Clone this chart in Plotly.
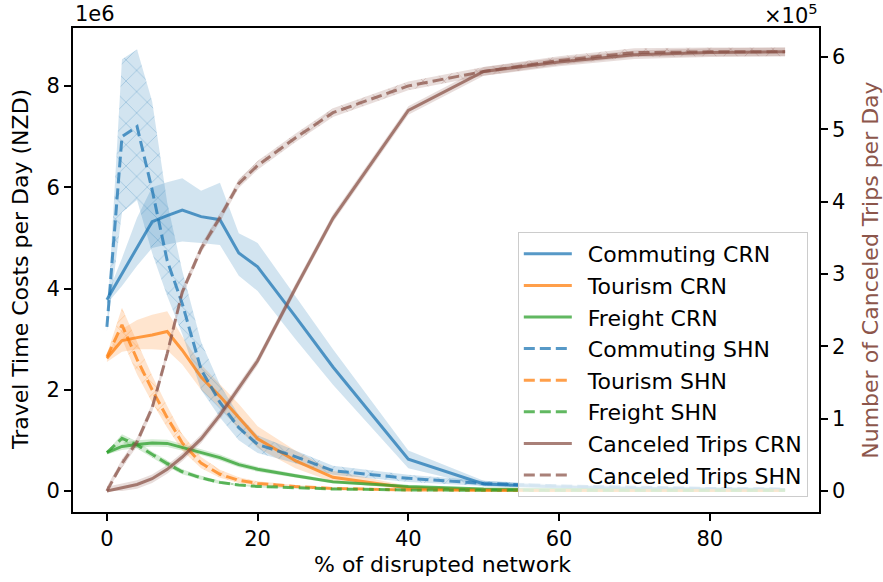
import plotly.graph_objects as go

# ---------------- data ----------------
x_pct = [0, 2, 4, 6, 8, 10, 12.5, 15, 17.5, 20, 25, 30, 40, 50, 60, 70, 80, 90]

# travel time costs (units of 1e6 NZD)
commuting_crn = [3.78, 4.3, 4.81, 5.32, 5.44, 5.55, 5.42, 5.36, 4.70, 4.43, 3.45, 2.45, 0.63, 0.14, 0.08, 0.05, 0.04, 0.03]
commuting_crn_hi = [3.85, 4.6, 5.4, 6.0, 6.1, 6.18, 5.93, 6.09, 5.09, 4.9, 3.85, 2.8, 0.8, 0.2, 0.11, 0.07, 0.05, 0.04]
commuting_crn_lo = [3.7, 4.05, 4.45, 4.8, 4.87, 4.93, 4.9, 4.86, 4.25, 3.95, 3.0, 2.1, 0.45, 0.09, 0.05, 0.03, 0.03, 0.02]

tourism_crn = [2.62, 2.97, 3.03, 3.08, 3.15, 2.78, 2.25, 1.87, 1.45, 1.03, 0.6, 0.27, 0.06, 0.02, 0.01, 0.01, 0.01, 0.01]
tourism_crn_hi = [2.7, 3.2, 3.38, 3.48, 3.55, 3.05, 2.5, 2.1, 1.72, 1.28, 0.8, 0.4, 0.1, 0.04, 0.02, 0.02, 0.02, 0.02]
tourism_crn_lo = [2.55, 2.75, 2.8, 2.8, 2.78, 2.5, 2.0, 1.65, 1.22, 0.85, 0.45, 0.18, 0.03, 0.01, 0.005, 0.005, 0.005, 0.005]

freight_crn = [0.76, 0.88, 0.92, 0.95, 0.94, 0.86, 0.77, 0.66, 0.52, 0.43, 0.3, 0.18, 0.09, 0.04, 0.03, 0.02, 0.02, 0.02]
freight_crn_hi = [0.8, 0.95, 1.0, 1.02, 1.01, 0.93, 0.83, 0.72, 0.58, 0.48, 0.34, 0.21, 0.11, 0.05, 0.04, 0.03, 0.03, 0.03]
freight_crn_lo = [0.72, 0.81, 0.85, 0.88, 0.87, 0.8, 0.71, 0.6, 0.47, 0.38, 0.26, 0.15, 0.07, 0.03, 0.02, 0.015, 0.015, 0.015]

commuting_shn = [3.24, 7.0, 7.2, 5.95, 4.55, 3.7, 2.4, 1.75, 1.25, 0.92, 0.68, 0.4, 0.25, 0.15, 0.1, 0.07, 0.05, 0.04]
commuting_shn_hi = [3.3, 8.53, 8.72, 7.7, 5.7, 4.35, 2.95, 2.1, 1.5, 1.1, 0.8, 0.5, 0.32, 0.2, 0.13, 0.09, 0.06, 0.05]
commuting_shn_lo = [3.15, 5.5, 5.75, 4.7, 3.85, 3.1, 2.0, 1.45, 1.0, 0.75, 0.55, 0.32, 0.18, 0.1, 0.07, 0.05, 0.04, 0.03]

tourism_shn = [2.65, 3.28, 2.6, 2.0, 1.45, 0.95, 0.55, 0.33, 0.21, 0.15, 0.09, 0.05, 0.02, 0.01, 0.01, 0.01, 0.01, 0.01]
tourism_shn_hi = [2.7, 3.62, 2.95, 2.28, 1.68, 1.12, 0.67, 0.42, 0.27, 0.19, 0.12, 0.07, 0.03, 0.02, 0.015, 0.015, 0.015, 0.015]
tourism_shn_lo = [2.6, 3.0, 2.3, 1.75, 1.25, 0.8, 0.45, 0.26, 0.16, 0.11, 0.07, 0.035, 0.01, 0.005, 0.005, 0.005, 0.005, 0.005]

freight_shn = [0.76, 1.04, 0.91, 0.72, 0.54, 0.38, 0.26, 0.17, 0.12, 0.09, 0.06, 0.04, 0.02, 0.01, 0.01, 0.01, 0.01, 0.01]
freight_shn_hi = [0.78, 1.12, 0.98, 0.78, 0.6, 0.43, 0.3, 0.2, 0.14, 0.11, 0.075, 0.05, 0.025, 0.015, 0.015, 0.015, 0.015, 0.015]
freight_shn_lo = [0.74, 0.96, 0.84, 0.66, 0.48, 0.33, 0.22, 0.14, 0.1, 0.07, 0.045, 0.03, 0.015, 0.005, 0.005, 0.005, 0.005, 0.005]

# canceled trips (units of 1e5 trips)
canceled_crn = [0, 0.04, 0.09, 0.17, 0.3, 0.47, 0.72, 1.05, 1.42, 1.8, 2.8, 3.77, 5.26, 5.80, 5.93, 6.03, 6.06, 6.07]
canceled_shn = [0, 0.38, 0.68, 1.15, 1.9, 2.75, 3.35, 3.78, 4.25, 4.5, 4.88, 5.23, 5.6, 5.8, 5.95, 6.06, 6.07, 6.07]
canceled_band = 0.06

left_ticks = [0, 2, 4, 6, 8]
right_ticks = [0, 1, 2, 3, 4, 5, 6]
x_ticks = [0, 20, 40, 60, 80]

# ---------------- styles ----------------
BLUE = (31, 119, 180)
ORANGE = (255, 127, 14)
GREEN = (44, 160, 44)
BROWN = (140, 86, 75)


def rgba(c, a):
    return f"rgba({c[0]},{c[1]},{c[2]},{a})"


FONT = "DejaVu Sans"
FS = 22      # labels / legend
TFS = 21     # tick labels
LW = 3
DASH = "11px,5px"
GAP = "\u2002"  # spacing between legend sample and label

fig = go.Figure()


def add_band(lo, hi, color, hatch, yaxis="y"):
    fig.add_trace(go.Scatter(x=x_pct, y=hi, mode="lines", line=dict(width=0),
                             showlegend=False, hoverinfo="skip", yaxis=yaxis))
    kw = dict(x=x_pct, y=lo, mode="lines", line=dict(width=0), fill="tonexty",
              fillcolor=rgba(color, 0.2), showlegend=False, hoverinfo="skip", yaxis=yaxis)
    if hatch:
        kw["fillpattern"] = dict(shape="x", size=15, solidity=0.1,
                                 fgcolor=rgba(color, 0.32), bgcolor=rgba(color, 0.2),
                                 fillmode="replace")
    fig.add_trace(go.Scatter(**kw))


# bands (left axis)
add_band(commuting_crn_lo, commuting_crn_hi, BLUE, False)
add_band(tourism_crn_lo, tourism_crn_hi, ORANGE, False)
add_band(freight_crn_lo, freight_crn_hi, GREEN, False)
add_band(commuting_shn_lo, commuting_shn_hi, BLUE, True)
add_band(tourism_shn_lo, tourism_shn_hi, ORANGE, True)
add_band(freight_shn_lo, freight_shn_hi, GREEN, True)

# lines (left axis)
series = [
    ("Commuting CRN", commuting_crn, BLUE, "solid"),
    ("Tourism CRN", tourism_crn, ORANGE, "solid"),
    ("Freight CRN", freight_crn, GREEN, "solid"),
    ("Commuting SHN", commuting_shn, BLUE, DASH),
    ("Tourism SHN", tourism_shn, ORANGE, DASH),
    ("Freight SHN", freight_shn, GREEN, DASH),
]
for name, vals, col, dash in series:
    fig.add_trace(go.Scatter(x=x_pct, y=vals, mode="lines", name=GAP + name, legendgroup=name,
                             line=dict(color=rgba(col, 0.75), width=LW, dash=dash)))

# canceled trips (right axis)
for name, vals, dash, hatch in [("Canceled Trips CRN", canceled_crn, "solid", False),
                                ("Canceled Trips SHN", canceled_shn, DASH, True)]:
    hi = [v + canceled_band for v in vals]
    lo = [max(v - canceled_band, 0) for v in vals]
    add_band(lo, hi, BROWN, hatch, yaxis="y2")
for name, vals, dash in [("Canceled Trips CRN", canceled_crn, "solid"),
                         ("Canceled Trips SHN", canceled_shn, DASH)]:
    fig.add_trace(go.Scatter(x=x_pct, y=vals, mode="lines", name=GAP + name, legendgroup=name,
                             yaxis="y2",
                             line=dict(color=rgba(BROWN, 0.75), width=LW, dash=dash)))

axis_common = dict(showgrid=False, zeroline=False, showline=True, linecolor="black",
                   linewidth=1.7, ticks="outside", ticklen=7, tickwidth=1.5,
                   tickcolor="black", tickfont=dict(family=FONT, size=TFS, color="black"))

fig.update_layout(
    width=883, height=582,
    margin=dict(l=73, r=64, t=28, b=70),
    paper_bgcolor="white", plot_bgcolor="white",
    font=dict(family=FONT, size=FS, color="black"),
    xaxis=dict(range=[-4.5, 94.5], tickvals=x_ticks, mirror=True, **axis_common),
    yaxis=dict(range=[-0.415, 9.146], tickvals=left_ticks, **axis_common),
    yaxis2=dict(range=[-0.29, 6.40], tickvals=right_ticks, overlaying="y", side="right",
                **axis_common),
    legend=dict(x=0.985, y=0.031, xanchor="right", yanchor="bottom",
                bgcolor="rgba(255,255,255,0.8)", bordercolor="#cccccc", borderwidth=1,
                font=dict(family=FONT, size=FS, color="black"),
                tracegroupgap=0, itemwidth=48, traceorder="grouped"),
    showlegend=True,
    annotations=[
        dict(text="1e6", xref="paper", yref="paper", x=0, y=1, xanchor="left", yanchor="bottom",
             yshift=0, showarrow=False, font=dict(family=FONT, size=TFS, color="black")),
        dict(text="×10<sup>5</sup>", xref="paper", yref="paper", x=1, y=1, xanchor="right",
             yanchor="bottom", yshift=-2, xshift=1, showarrow=False,
             font=dict(family=FONT, size=TFS, color="black")),
        dict(text="% of disrupted network", xref="paper", yref="paper", x=0.4957, y=-0.1095,
             xanchor="center", yanchor="middle", showarrow=False,
             font=dict(family=FONT, size=FS, color="black")),
        dict(text="Travel Time Costs per Day (NZD)", xref="paper", yref="paper",
             x=-0.071, y=0.5, xanchor="center", yanchor="middle", textangle=-90,
             showarrow=False, font=dict(family=FONT, size=FS, color="black")),
        dict(text="Number of Canceled Trips per Day", xref="paper", yref="paper",
             x=1.068, y=0.5, xanchor="center", yanchor="middle", textangle=-90,
             showarrow=False, font=dict(family=FONT, size=FS, color="rgb(140,86,75)")),
    ],
)

fig.write_html("out.html", config={"displayModeBar": False},
               post_script="document.body.style.margin='0px';document.body.style.padding='0px';")
